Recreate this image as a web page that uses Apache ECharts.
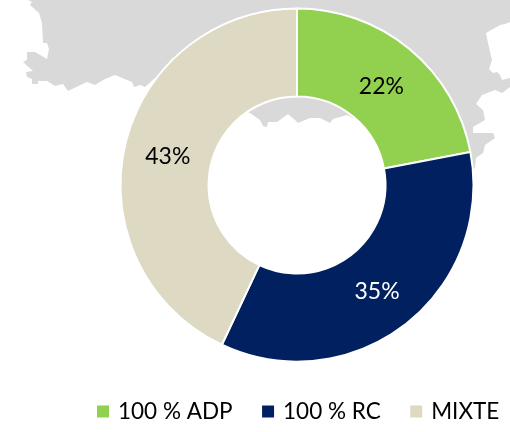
<!DOCTYPE html>
<html><head><meta charset="utf-8">
<style>html,body{margin:0;padding:0;background:#fff}#c{width:510px;height:432px}</style>
<script src="https://cdn.jsdelivr.net/npm/echarts@6/dist/echarts.min.js"></script>
</head><body><div id="c"></div>
<script>
const categories = ['100 % ADP', '100 % RC', 'MIXTE'];
const values = [22, 35, 43];
const colors = ['#92D050', '#00205F', '#DDD9C3'];
const labelColors = ['#000000', '#FFFFFF', '#000000'];
const labelOffsets = [[-2,6],[-3,0],[3,1]];
// Decorative map silhouette behind the doughnut
const mapOutline = [[28,0],[32,2],[30,5],[39,13],[42,23],[43,43],[47,43],[49,49],[47,59],[35,52],[27,52],[27,60],[23,62],[33,71],[26,72],[27,77],[32,79],[32,84],[38,84],[38,81],[47,81],[55,86],[63,84],[68,91],[87,82],[95,85],[105,79],[115,75],[132,82],[134,87],[140,85],[145,87],[155,78],[200,95],[250,113],[260,120],[263,126],[267,127],[268,122],[277,122],[288,114],[295,120],[298,123],[310,118],[320,118],[330,123],[333,119],[347,115],[400,140],[470,172],[475,168],[476,158],[483,153],[485,145],[495,138],[493,133],[473,133],[473,127],[485,120],[483,110],[476,104],[482,95],[495,90],[502,93],[510,87],[510,78],[502,80],[500,75],[497,72],[493,73],[489,69],[492,60],[488,43],[486,33],[500,25],[505,24],[510,22],[510,0]];
const font = 'Lato, sans-serif';
const chart = echarts.init(document.getElementById('c'), null, {renderer:'canvas'});
chart.setOption({
  animation:false,
  backgroundColor:'#fff',
  color:colors,
  graphic:[{type:'polygon',z:-10,silent:true,shape:{points:mapOutline},style:{fill:'#D9D9D9'}}],
  legend:{
    left:97, top:400, padding:0, icon:'rect', itemWidth:12, itemHeight:12, itemGap:29.5, selectedMode:false,
    itemStyle:{borderWidth:0},
    textStyle:{fontFamily:font,fontSize:22.5,color:'#000',padding:[0,0,0,4]},
    data:categories
  },
  series:[{
    type:'pie', center:[297,185], radius:[88.5,176.5], startAngle:90, clockwise:true,
    silent:true, avoidLabelOverlap:false,
    itemStyle:{borderColor:'#fff',borderWidth:2},
    label:{show:true,position:'inside',fontFamily:font,fontSize:23,formatter:'{c}%'},
    labelLine:{show:false},
    data:categories.map((n,i)=>({name:n,value:values[i],itemStyle:{color:colors[i]},label:{color:labelColors[i],offset:labelOffsets[i]}}))
  }]
});
</script></body></html>
